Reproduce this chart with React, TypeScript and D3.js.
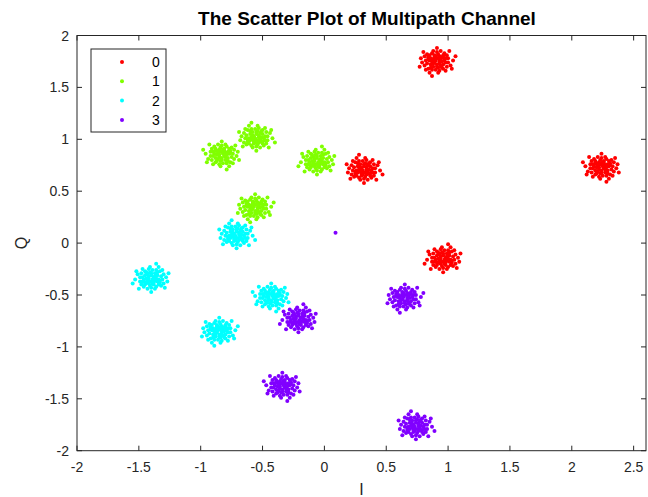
import React from "react";
import * as d3 from "d3";

const classes = ["0", "1", "2", "3"];
const colors = ["#ff0000", "#80ff00", "#00ffff", "#8000ff"];

// cluster centres [I, Q, variant]
const class0 = [[0.9, 1.75, 0], [2.25, 0.73, 1], [0.31, 0.71, 2], [0.97, -0.15, 3]];
const class1 = [[-0.82, 0.85, 1], [-0.56, 1.02, 2], [-0.05, 0.79, 3], [-0.57, 0.34, 0]];
const class2 = [[-0.72, 0.08, 2], [-1.39, -0.34, 3], [-0.86, -0.85, 0], [-0.42, -0.52, 1]];
const class3 = [[-0.2, -0.73, 3], [0.64, -0.53, 0], [-0.33, -1.38, 1], [0.73, -1.76, 2]];
const stray3 = [[0.09, 0.1]];

// NOTE: approximate spread, not the reference's actual points. This is one
// hand-typed offset pattern sized to match the cluster spread seen in the
// picture (about ±0.15). It is reused for every cluster, mirrored by the
// "variant" sign flips below, so the clusters are not read point by point.
const offsets = [
  [0.0, 0.01], [0.03, -0.02], [-0.04, 0.03], [0.06, 0.04], [-0.02, -0.05], [0.08, -0.01], [-0.07, -0.02], [0.02, 0.07], [-0.05, 0.06], [0.05, -0.06],
  [0.01, -0.03], [-0.03, 0.0], [0.04, 0.02], [-0.01, 0.04], [0.1, 0.03], [-0.09, 0.05], [0.07, 0.08], [-0.06, -0.07], [0.03, -0.09], [-0.11, -0.01],
  [0.12, -0.04], [-0.02, 0.1], [0.0, -0.08], [0.06, -0.03], [-0.04, -0.03], [0.02, 0.03], [-0.08, 0.01], [0.09, 0.06], [-0.03, 0.08], [0.04, -0.04],
  [0.14, 0.01], [-0.13, -0.05], [0.01, 0.13], [-0.05, -0.11], [0.08, -0.09], [-0.1, 0.09], [0.11, 0.1], [0.05, 0.0], [-0.01, -0.01], [0.02, -0.06],
  [-0.06, 0.02], [0.07, 0.01], [-0.03, -0.08], [0.0, 0.05], [0.03, 0.05], [-0.07, 0.07], [0.06, -0.07], [-0.02, 0.02], [0.09, -0.05], [-0.09, -0.04],
  [0.01, 0.09], [0.04, 0.1], [-0.04, -0.06], [0.13, -0.07], [-0.12, 0.03], [0.05, 0.04], [-0.05, 0.01], [0.02, -0.11], [-0.08, -0.08], [0.1, -0.01],
  [0.0, 0.03], [0.03, 0.0], [-0.02, -0.02], [0.06, 0.06], [-0.06, 0.04], [0.08, 0.03], [-0.01, 0.06], [0.01, -0.05], [0.16, 0.05], [-0.03, -0.14],
];
const flips = [[1, 1], [-1, 1], [1, -1], [-1, -1]];

const xTicks = [-2, -1.5, -1, -0.5, 0, 0.5, 1, 1.5, 2, 2.5];
const yTicks = [-2, -1.5, -1, -0.5, 0, 0.5, 1, 1.5, 2];

const W = 648, H = 497;
const L = 77, R = 646, T = 35.5, B = 450.7;

export default function App() {
  const x = d3.scaleLinear().domain([-2, 2.6]).range([L, R]);
  const y = d3.scaleLinear().domain([-2, 2]).range([B, T]);
  const groups = [class0, class1, class2, class3];
  const pts: { px: number; py: number; c: string }[] = [];
  groups.forEach((g, ci) => {
    g.forEach(([cx, cy, v]) => {
      const [sx, sy] = flips[v];
      offsets.forEach(([dx, dy]) => {
        pts.push({ px: x(cx + sx * dx), py: y(cy + sy * dy), c: colors[ci] });
      });
    });
  });
  stray3.forEach(([a, b]) => pts.push({ px: x(a), py: y(b), c: colors[3] }));
  const axisColor = "#262626";
  const font = "Liberation Sans, Arial, sans-serif";
  const tl = 5;
  return (
    <svg width={W} height={H} style={{ position: "absolute", left: 0, top: 0, background: "#fff" }} fontFamily={font}>
      <rect x={0} y={0} width={W} height={H} fill="#fff" />
      <rect x={L} y={T} width={R - L} height={B - T} fill="#fff" />
      {pts.map((p, i) => (
        <circle key={i} cx={p.px} cy={p.py} r={2} fill={p.c} />
      ))}
      <rect x={L} y={T} width={R - L} height={B - T} fill="none" stroke={axisColor} strokeWidth={1} />
      {xTicks.map((t) => (
        <g key={"x" + t}>
          <line x1={x(t)} x2={x(t)} y1={B} y2={B - tl} stroke={axisColor} />
          <line x1={x(t)} x2={x(t)} y1={T} y2={T + tl} stroke={axisColor} />
          <text x={x(t)} y={B + 21} textAnchor="middle" fontSize={14} fill={axisColor}>{t}</text>
        </g>
      ))}
      {yTicks.map((t) => (
        <g key={"y" + t}>
          <line x1={L} x2={L + tl} y1={y(t)} y2={y(t)} stroke={axisColor} />
          <line x1={R} x2={R - tl} y1={y(t)} y2={y(t)} stroke={axisColor} />
          <text x={L - 8} y={y(t) + 5} textAnchor="end" fontSize={14} fill={axisColor}>{t}</text>
        </g>
      ))}
      <text x={367} y={25} textAnchor="middle" fontSize={19} fontWeight="bold" fill="#000">
        The Scatter Plot of Multipath Channel
      </text>
      <text x={(L + R) / 2} y={495} textAnchor="middle" fontSize={16} fill={axisColor}>I</text>
      <text transform={`translate(27,${(T + B) / 2}) rotate(-90)`} textAnchor="middle" fontSize={16} fill={axisColor}>Q</text>
      <g>
        <rect x={91} y={49} width={75} height={83} fill="#fff" stroke={axisColor} />
        {classes.map((c, i) => (
          <g key={c}>
            <circle cx={122} cy={62 + i * 19.3} r={2} fill={colors[i]} />
            <text x={152} y={62 + i * 19.3 + 5} fontSize={14} fill="#000">{c}</text>
          </g>
        ))}
      </g>
    </svg>
  );
}
